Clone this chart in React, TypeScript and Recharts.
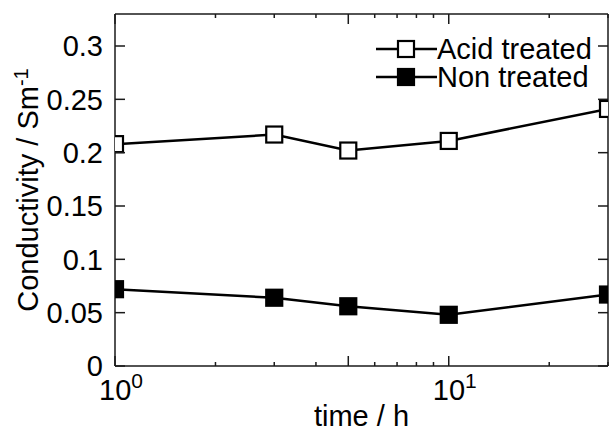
import React from "react";
import { LineChart, Line, XAxis, YAxis } from "recharts";

const time = [1, 3, 5, 10, 30];
const acidTreated = [0.208, 0.217, 0.202, 0.211, 0.241];
const nonTreated = [0.072, 0.064, 0.056, 0.048, 0.067];
const yTicks = [0, 0.05, 0.1, 0.15, 0.2, 0.25, 0.3];
const yTickLabels = ["0", "0.05", "0.1", "0.15", "0.2", "0.25", "0.3"];
const xTicks = [1, 2, 3, 4, 5, 6, 7, 8, 9, 10, 20, 30];
const xMajorTicks = [1, 5, 10];
const xLabelTicks = [1, 10];
const xLabelExponents = ["0", "1"];
const seriesNames = ["Acid treated", "Non treated"];

const data = time.map((t, i) => ({ t, acid: acidTreated[i], non: nonTreated[i] }));

const FONT = "'Liberation Sans', Arial, sans-serif";
const FS = 29;
const AX = "#1a1a1a";

const SquareDot = (fill: string) => (props: any) => {
  const { cx, cy, index } = props;
  if (cx == null || cy == null) return <g key={index} />;
  return (
    <rect
      key={index}
      x={cx - 8}
      y={cy - 8}
      width={16}
      height={16}
      fill={fill}
      stroke="#000"
      strokeWidth={2.2}
    />
  );
};

const XBottomTick = (props: any) => {
  const { x, y, payload } = props;
  const v = payload.value;
  const len = xMajorTicks.includes(v) ? 10 : 4;
  const li = xLabelTicks.indexOf(v);
  return (
    <g>
      <line x1={x} x2={x} y1={y} y2={y - len} stroke={AX} strokeWidth={1.5} />
      {li >= 0 && (
        <text x={x - 16} y={y + 34} fontFamily={FONT} fontSize={FS} fill="#000">
          <tspan>10</tspan>
          <tspan dy={-12} fontSize={21}>{xLabelExponents[li]}</tspan>
        </text>
      )}
    </g>
  );
};

const XTopTick = (props: any) => {
  const { x, y, payload } = props;
  const v = payload.value;
  const len = xMajorTicks.includes(v) ? 10 : 4;
  return <line x1={x} x2={x} y1={y} y2={y + len} stroke={AX} strokeWidth={1.5} />;
};

const YLeftTick = (props: any) => {
  const { x, y, payload } = props;
  const i = yTicks.indexOf(payload.value);
  return (
    <g>
      <line x1={x} x2={x + 10} y1={y} y2={y} stroke={AX} strokeWidth={1.5} />
      <text
        x={x - 12}
        y={y}
        dy="0.36em"
        textAnchor="end"
        fontFamily={FONT}
        fontSize={FS}
        fill="#000"
      >
        {i >= 0 ? yTickLabels[i] : String(payload.value)}
      </text>
    </g>
  );
};

const YRightTick = (props: any) => {
  const { x, y } = props;
  return <line x1={x} x2={x - 10} y1={y} y2={y} stroke={AX} strokeWidth={1.5} />;
};

const LegendBox = () => {
  const fills = ["#fff", "#000"];
  return (
    <div
      style={{
        position: "absolute",
        left: 376,
        top: 35,
        fontFamily: FONT,
        fontSize: FS,
        color: "#000",
      }}
    >
      {seriesNames.map((name, i) => (
        <div key={name} style={{ display: "flex", alignItems: "center", height: 28 }}>
          <svg width={61} height={28} style={{ display: "block" }}>
            <line x1={0} x2={61} y1={14} y2={14} stroke="#000" strokeWidth={2.5} />
            <rect x={22} y={6} width={16} height={16} fill={fills[i]} stroke="#000" strokeWidth={2.2} />
          </svg>
          <span
            style={{
              display: "block",
              height: 28,
              lineHeight: "28px",
              whiteSpace: "nowrap",
              overflow: "visible",
            }}
          >
            {name}
          </span>
        </div>
      ))}
    </div>
  );
};

const XLabel = (props: any) => {
  const vb = props.viewBox || {};
  return (
    <text
      x={vb.x + vb.width / 2}
      y={vb.y + 60}
      textAnchor="middle"
      fontFamily={FONT}
      fontSize={FS}
      fill="#000"
    >
      time / h
    </text>
  );
};

const YLabel = (props: any) => {
  const vb = props.viewBox || {};
  const x = vb.x + 38;
  const y = vb.y + vb.height / 2;
  return (
    <text
      x={x}
      y={y}
      transform={`rotate(-90, ${x}, ${y})`}
      textAnchor="middle"
      fontFamily={FONT}
      fontSize={FS}
      fill="#000"
    >
      <tspan>Conductivity / Sm</tspan>
      <tspan dy={-10} fontSize={20}>-1</tspan>
    </text>
  );
};

export default function App() {
  return (
    <div style={{ position: "absolute", left: 0, top: 0, width: 610, height: 430, background: "#fff" }}>
      <LineChart width={610} height={430} data={data} margin={{ top: 0, right: 1, bottom: 0, left: 0 }}>
        <XAxis
          xAxisId="b"
          dataKey="t"
          type="number"
          scale="log"
          domain={[1, 30]}
          allowDataOverflow
          ticks={xTicks}
          interval={0}
          tickSize={0}
          tickMargin={0}
          tickLine={false}
          tick={<XBottomTick />}
          height={64}
          axisLine={{ stroke: AX, strokeWidth: 1.5 }}
          label={<XLabel />}
        />
        <XAxis
          xAxisId="t"
          orientation="top"
          dataKey="t"
          type="number"
          scale="log"
          domain={[1, 30]}
          allowDataOverflow
          ticks={xTicks}
          interval={0}
          tickSize={0}
          tickMargin={0}
          tickLine={false}
          tick={<XTopTick />}
          height={14}
          axisLine={{ stroke: AX, strokeWidth: 1.5 }}
        />
        <YAxis
          yAxisId="l"
          type="number"
          domain={[0, 0.33]}
          allowDataOverflow
          ticks={yTicks}
          interval={0}
          tickSize={0}
          tickMargin={0}
          tickLine={false}
          tick={<YLeftTick />}
          width={115}
          axisLine={{ stroke: AX, strokeWidth: 1.5 }}
          label={<YLabel />}
        />
        <YAxis
          yAxisId="r"
          orientation="right"
          type="number"
          domain={[0, 0.33]}
          allowDataOverflow
          ticks={yTicks}
          interval={0}
          tickSize={0}
          tickMargin={0}
          tickLine={false}
          tick={<YRightTick />}
          width={1}
          axisLine={{ stroke: AX, strokeWidth: 1.5 }}
        />
        <Line
          xAxisId="b"
          yAxisId="l"
          dataKey="acid"
          name={seriesNames[0]}
          stroke="#000"
          strokeWidth={2.5}
          dot={SquareDot("#fff")}
          isAnimationActive={false}
        />
        <Line
          xAxisId="b"
          yAxisId="l"
          dataKey="non"
          name={seriesNames[1]}
          stroke="#000"
          strokeWidth={2.5}
          dot={SquareDot("#000")}
          isAnimationActive={false}
        />
      </LineChart>
      <LegendBox />
    </div>
  );
}
